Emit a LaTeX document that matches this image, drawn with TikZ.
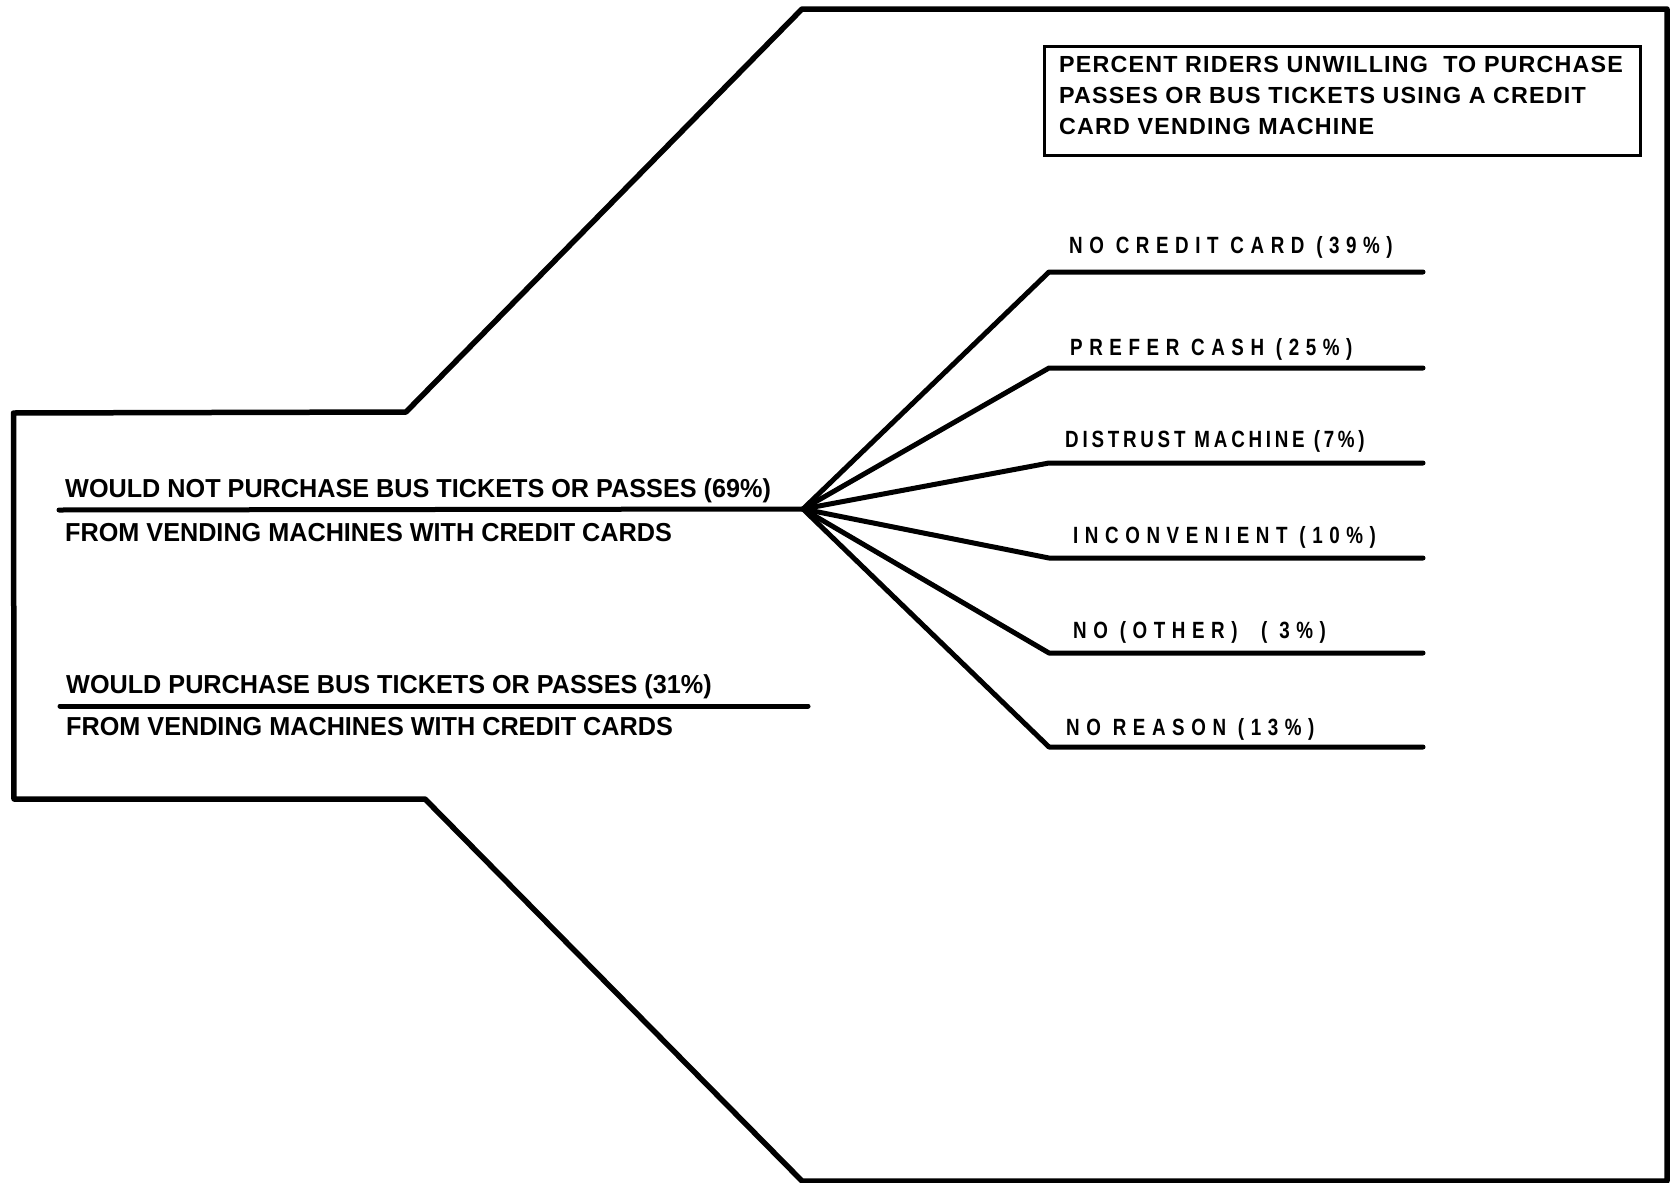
\documentclass[tikz,border=0pt]{standalone}
\usepackage{fontspec}
\setmainfont{Liberation Sans}
\newfontfamily\boxfont{Liberation Sans}[LetterSpace=5]
\newfontfamily\groupfont{Liberation Sans}[FakeStretch=0.97]
\newfontfamily\reasonfont{Liberation Sans}[FakeStretch=0.8,LetterSpace=28]
\newfontfamily\reasontight{Liberation Sans}[FakeStretch=0.8,LetterSpace=16]
\usetikzlibrary{positioning,calc}

\begin{document}
\begin{tikzpicture}[x=1pt,y=-1pt,
  frame/.style={line width=5.5pt, line join=round},
  branch/.style={line width=5pt, line join=round, line cap=round},
  grouplab/.style={anchor=base west, inner sep=0pt, font=\groupfont\bfseries\fontsize{26}{30}\selectfont},
  reasonlab/.style={anchor=base west, inner sep=0pt}]
\useasboundingbox (0,0) rectangle (1671,1183);
% Outer frame
\draw[frame] (13.5,413) -- (406,412) -- (802,9) -- (1667,9) -- (1667,1181)
  -- (802,1181) -- (425,799) -- (14,799) -- cycle;
% Title box
\node[draw, line width=3pt, anchor=north west, inner sep=0pt,
  minimum width=596, minimum height=109] (titlebox) at (1043,45) {};
\node[anchor=north west, inner sep=0pt, align=left,
  font=\boxfont\bfseries\fontsize{23.3}{31}\selectfont] (title) at (1059,56)
  {PERCENT RIDERS UNWILLING \ TO PURCHASE\\PASSES OR BUS TICKETS USING A CREDIT\\CARD VENDING MACHINE};
% Two groups
\coordinate (hub) at (803,509);
\coordinate (nostart) at (59,510);
\coordinate (yesstart) at (60,706);
\coordinate (yesend) at (808,706);
\node[grouplab] (no) at (65,497) {WOULD NOT PURCHASE BUS TICKETS OR PASSES (69\%)};
\node[grouplab] (nofrom) at (65,541) {FROM VENDING MACHINES WITH CREDIT CARDS};
\node[grouplab] (yes) at (66,693) {WOULD PURCHASE BUS TICKETS OR PASSES (31\%)};
\node[grouplab] (yesfrom) at (66,735) {FROM VENDING MACHINES WITH CREDIT CARDS};
\draw[branch] (nostart) -- (hub);
\draw[branch] (yesstart) -- (yesend);
% Reasons fanning out of the hub
\foreach \i/\y/\lx/\ly/\f/\txt in {
  1/272/1069/253/\reasonfont/{NO CREDIT CARD (39\%)},
  2/368/1070/355/\reasonfont/{PREFER CASH (25\%)},
  3/463/1065/447/\reasontight/{DISTRUST MACHINE (7\%)},
  4/558/1073/543/\reasonfont/{INCONVENIENT (10\%)},
  5/653/1073/638/\reasonfont/{NO (OTHER)\ \ ( 3\%)},
  6/747/1066/735/\reasonfont/{NO REASON (13\%)}} {
  \coordinate (e\i) at (1049,\y);
  \coordinate (t\i) at (1423,\y);
  \node[reasonlab, font=\f\bfseries\fontsize{23.5}{28}\selectfont] (r\i) at (\lx,\ly) {\txt};
  \draw[branch] (hub) -- (e\i) -- (t\i);
}
\end{tikzpicture}
\end{document}
